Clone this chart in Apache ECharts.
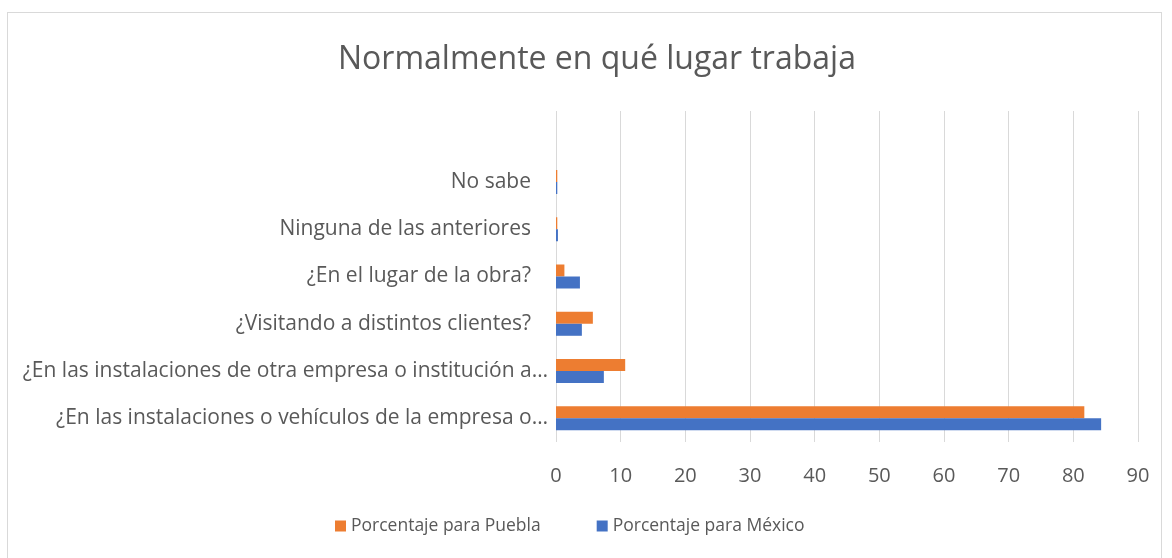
<!DOCTYPE html>
<html>
<head>
<meta charset="utf-8">
<title>Normalmente en qué lugar trabaja</title>
<script src="https://cdn.jsdelivr.net/npm/echarts@6/dist/echarts.min.js"></script>
<style>
  html, body {
    margin: 0;
    padding: 0;
    background: #ffffff;
  }
  .frame {
    position: absolute;
    left: 7px;
    top: 12px;
    width: 1155px;
    height: 560px;
    border: 1px solid #d9d9d9;
    box-sizing: border-box;
  }
  #chart {
    position: absolute;
    left: 0;
    top: 0;
    width: 1172px;
    height: 558px;
  }
</style>
</head>
<body>
<div class="frame"></div>
<div id="chart"></div>
<script>
// categories listed bottom to top, like the Excel source (top row is empty)
const categories = [
  '¿En las instalaciones o vehículos de la empresa o…',
  '¿En las instalaciones de otra empresa o institución a…',
  '¿Visitando a distintos clientes?',
  '¿En el lugar de la obra?',
  'Ninguna de las anteriores',
  'No sabe',
  ''
]
const pueblaValues = [81.7, 10.7, 5.7, 1.3, 0.2, 0.2, null]
const mexicoValues = [84.3, 7.4, 4.0, 3.7, 0.3, 0.2, null]
const xTicks = { min: 0, max: 90, interval: 10 }

const textColor = '#595959'
const gridColor = '#d9d9d9'
const fontFamily = 'Open Sans, sans-serif'

const chart = echarts.init(document.getElementById('chart'))

const option = {
  animation: false,
  title: {
    text: 'Normalmente en qué lugar trabaja',
    left: 333,
    top: 39,
    textStyle: {
      fontFamily: fontFamily,
      fontSize: 32,
      fontWeight: 'normal',
      color: textColor
    }
  },
  legend: {
    data: ['Porcentaje para Puebla', 'Porcentaje para México'],
    bottom: 18,
    left: 330,
    itemWidth: 11,
    itemHeight: 11,
    itemGap: 56,
    icon: 'rect',
    textStyle: {
      fontFamily: fontFamily,
      fontSize: 17.5,
      color: textColor
    }
  },
  grid: {
    left: 556,
    right: 34,
    top: 111,
    bottom: 116,
    containLabel: false
  },
  xAxis: {
    type: 'value',
    min: xTicks.min,
    max: xTicks.max,
    interval: xTicks.interval,
    axisLine: { show: false },
    axisTick: { show: false },
    axisLabel: {
      color: textColor,
      fontFamily: fontFamily,
      fontSize: 20,
      margin: 24
    },
    splitLine: {
      lineStyle: { color: gridColor, width: 1 }
    }
  },
  yAxis: {
    type: 'category',
    data: categories,
    axisLine: { show: false },
    axisTick: { show: false },
    axisLabel: {
      color: textColor,
      fontFamily: fontFamily,
      fontSize: 21,
      margin: 8,
      // Excel keeps the cut labels closer to the axis than the full ones
      formatter: (value) => value.endsWith('…') ? value : '{p|' + value + '}',
      rich: {
        p: {
          color: textColor,
          fontFamily: fontFamily,
          fontSize: 21,
          padding: [0, 17, 0, 0]
        }
      }
    }
  },
  series: [
    {
      name: 'Porcentaje para Puebla',
      type: 'bar',
      data: pueblaValues,
      barWidth: 12,
      barGap: '0%',
      itemStyle: { color: '#ED7D31' }
    },
    {
      name: 'Porcentaje para México',
      type: 'bar',
      data: mexicoValues,
      barWidth: 12,
      barGap: '0%',
      itemStyle: { color: '#4472C4' }
    }
  ]
}

chart.setOption(option)

window.addEventListener('resize', () => {
  chart.resize()
})
</script>
</body>
</html>
